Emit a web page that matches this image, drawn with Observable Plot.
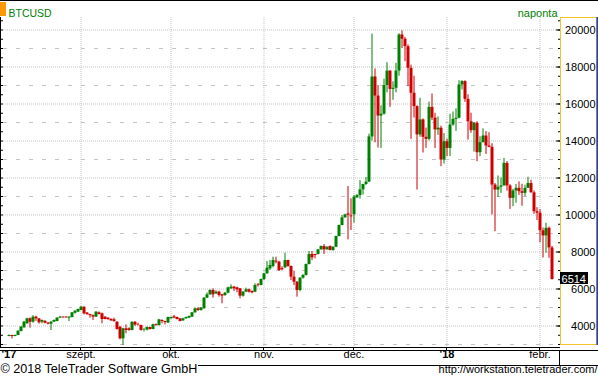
<!DOCTYPE html>
<html><head><meta charset="utf-8">
<script src="https://cdn.jsdelivr.net/npm/d3@7"></script>
<script src="https://cdn.jsdelivr.net/npm/@observablehq/plot@0.6"></script>
<style>html,body{margin:0;padding:0;background:#fff;} svg{display:block;}</style>
</head><body><div id="chart"></div>
<script>
// Daily BTCUSD candles, consecutive days starting 2017-08-08
const startDate = "2017-08-08";
const opens = [
  // Aug
  3433,3487,3433,3487,3703,3901,4117,4388,4207,4478,4388,4207,4243,4153,4100,4207,4243,4424,4478,4478,4424,4460,4690,4748,
  // Sep
  4838,5018,4700,4620,4560,4478,4712,4660,4478,4424,4352,4334,4207,3937,3306,3847,3847,3757,4200,4050,4030,3760,3780,3920,3810,4070,4020,4300,4244,4154,
  // Oct
  4388,4496,4460,4388,4280,4388,4424,4478,4713,4929,4840,4929,5505,5686,5920,5740,5830,5686,5650,5776,6010,6100,6064,6010,5614,5830,5956,5866,5830,6226,6189,
  // Nov
  6513,6820,7090,7216,7504,7450,7100,7144,7540,7216,6639,6369,5918,6585,6729,7324,7865,7865,7865,8117,8297,8117,8297,8080,8261,8838,9432,9847,10060,9950,
  // Dec
  10009,10928,11054,11360,11650,11780,14220,17460,16430,15350,15450,17000,17780,16790,16850,17780,19730,19500,19100,17930,16580,15860,14330,15140,14200,14090,15820,15240,14600,14690,12970,
  // Jan
  13960,13600,14865,15170,15230,17030,17210,16250,15040,14560,14960,13370,13910,14270,13730,13660,11620,11350,11500,11570,12790,11570,10900,11300,11440,11260,11170,11440,11700,11200,10180,
  // Feb
  10100,9150,8870,9280,8220
];
const highs = [
  3520,3500,3510,3740,3980,4250,4420,4440,4560,4530,4400,4330,4300,4190,4230,4330,4450,4520,4500,4510,4500,4730,4820,4910,
  5055,5030,4730,4640,4600,4780,4760,4700,4500,4440,4400,4420,4230,3960,3880,4060,3900,4230,4240,4150,4040,3880,3950,3930,4100,4110,4360,4334,4260,4480,
  4490,4570,4480,4400,4420,4480,4540,4730,4983,4983,5000,5540,5790,5960,6010,5900,5880,5720,5810,6100,6226,6140,6100,6030,5860,6046,6000,5900,6280,6300,6540,
  6850,7486,7540,7720,7720,7500,7200,7937,7560,7250,6964,6400,6620,6780,7350,8027,8027,7880,8140,8320,8405,8300,8330,8280,8860,9460,9970,10040,11541,10874,
  11054,11100,11860,11660,12030,14370,19780,17900,17000,15900,17340,18230,17800,17200,18200,19800,19950,19600,19200,18100,17500,15900,16310,15200,14700,16100,16540,15500,15300,14800,14400,
  14100,15450,15570,15740,17260,17260,17260,16500,15500,15000,15040,14230,14660,14510,14450,13850,11700,12110,12000,13060,12890,11640,11380,11650,11790,11660,11610,12040,11880,11300,10400,
  10290,9300,9550,9350,8300
];
const lows = [
  3420,3300,3420,3480,3680,3880,4100,3883,4150,4250,4100,4120,4120,4060,3757,4190,4230,4400,4420,4420,4240,4440,4640,4740,
  4820,4600,4580,4420,4300,4460,4600,4117,4330,4300,4250,4200,3780,3250,2946,3580,3720,3740,3980,4000,3720,3680,3730,3780,3800,4000,4010,4118,4060,4150,
  4370,4388,4330,4220,4250,4370,4400,4470,4690,4785,4800,4910,5480,5660,5505,5700,5560,5200,5600,5740,5980,5866,5794,5470,5560,5800,5780,5740,5800,6100,6170,
  6450,6800,7000,7140,7360,6950,6980,7100,7180,6460,6190,5558,5850,6530,6700,7300,7540,7630,7840,8100,7865,8100,8060,8040,8240,8820,9420,9830,8657,9162,
  9559,10900,10860,11080,11600,11750,14000,13900,13620,13600,15400,16600,15820,16200,16600,17500,19000,18290,16940,14090,15240,11350,14200,13350,13600,14000,15100,13600,14300,12610,12750,
  13150,13160,14800,14520,15200,16760,16090,14050,14420,13400,12880,13150,13900,13270,13640,10000,9100,10950,11170,11570,11290,10300,10450,10640,11060,10470,10990,11440,11180,10036,9700,
  8500,7680,7930,7660,6480
];
const closes = [
  3487,3433,3487,3721,3937,4207,4388,4207,4478,4388,4172,4297,4153,4100,4207,4297,4424,4478,4442,4442,4478,4712,4800,4892,
  5018,4658,4620,4560,4480,4748,4622,4352,4352,4352,4280,4243,3811,3306,3847,3757,3757,4200,4050,4030,3760,3780,3920,3810,4070,4020,4330,4244,4190,4460,
  4460,4424,4352,4244,4388,4460,4514,4713,4929,4840,4965,5505,5686,5920,5686,5830,5650,5614,5776,6064,6100,6010,5956,5614,5830,5956,5830,5794,6190,6189,6513,
  6820,7126,7270,7540,7450,7000,7040,7540,7216,6639,6369,5918,6585,6729,7324,7865,7685,7810,8117,8297,8117,8240,8080,8261,8838,9432,9847,10009,9990,9900,
  10964,11054,11360,11650,11780,14220,17460,16430,15350,15450,17000,17780,16790,16850,17780,19730,19500,19100,17930,16580,15860,14330,15140,14200,14090,15820,15240,14600,14690,12970,13960,
  13600,14865,15170,15230,17030,17210,16250,15040,14560,14960,13370,13910,14270,13730,13660,11620,11350,11500,11570,12790,11570,10900,11300,11440,11260,11170,11440,11700,11200,10180,10100,
  9150,8870,9280,8220,6514
];

// Axis / tick values
const yLabelTicks = [4000,6000,8000,10000,12000,14000,16000,18000,20000];
const yMinorGrid = [3000,5000,7000,9000,11000,13000,15000,17000,19000];
const ySmallTicks = [3000,3500,4000,4500,5000,5500,6000,6500,7000,7500,8000,8500,9000,9500,10000,10500,11000,11500,12000,12500,13000,13500,14000,14500,15000,15500,16000,16500,17000,17500,18000,18500,19000,19500,20000,20500];
const monthTicks = ["2017-09-01","2017-10-01","2017-11-01","2017-12-01","2018-01-01","2018-02-01"];
const monthLabels = ["szept.","okt.","nov.","dec.","'18","febr."];
const yearStartLabel = "'17";
const lastValue = 6514;

const DAY = 864e5;
const rows = closes.map((c, i) => ({
  date: new Date(Date.parse(startDate + "T00:00:00Z") + i * DAY),
  open: opens[i], high: highs[i], low: lows[i], close: c
}));
const months = monthTicks.map(s => new Date(s + "T00:00:00Z"));
const GREEN = "#008000", RED = "#cc0000", GRID = "#c4c4c4";
const col = d => d.close >= d.open ? GREEN : RED;
const FONT = "'Liberation Sans', Arial, sans-serif";

const xDomain = [new Date(Date.UTC(2017,7,6,4)), new Date(Date.UTC(2018,1,7,20))];
const yDomain = [2892, 20676];
const xEnd = xDomain[1], xStart = xDomain[0];

const chart = Plot.plot({
  width: 598, height: 384,
  marginTop: 17, marginRight: 38, marginBottom: 38, marginLeft: 3,
  x: {type: "utc", domain: xDomain, axis: null},
  y: {domain: yDomain, axis: null},
  color: {type: "identity"},
  style: {fontFamily: FONT, fontSize: "11px", background: "white", overflow: "visible"},
  marks: [
    Plot.ruleY(yMinorGrid, {stroke: GRID, strokeDasharray: "4,9"}),
    Plot.ruleY(yLabelTicks, {stroke: GRID, strokeDasharray: "1,1"}),
    Plot.ruleX(months, {stroke: GRID, strokeDasharray: "1,1"}),
    // wicks
    Plot.ruleX(rows, {x: "date", y1: "low", y2: "high", stroke: col, strokeWidth: 1}),
    // bodies
    Plot.ruleX(rows, {x: "date", y1: "open", y2: "close", stroke: col, strokeWidth: 3}),
    // right axis ticks (inward)
    Plot.ruleY(ySmallTicks, {x1: () => new Date(+xEnd - DAY * 2 / 3), x2: () => xEnd, stroke: "black"}),
    Plot.ruleY(yLabelTicks, {x1: () => new Date(+xEnd - DAY * 4 / 3), x2: () => xEnd, stroke: "black"}),
    // left axis ticks
    Plot.ruleY(ySmallTicks, {x1: () => xStart, x2: () => new Date(+xStart + DAY), dx: -3, stroke: "black"}),
    // right axis labels
    Plot.text(yLabelTicks, {y: d => d, text: d => String(d), frameAnchor: "right", dx: 35, textAnchor: "end", fill: "black", fontSize: 11}),
    // month labels
    Plot.text(months, {x: d => d, text: (d, i) => monthLabels[i], frameAnchor: "bottom", dy: 11.5, fill: "black", fontSize: 11,
      filter: (d, i) => !monthLabels[i].startsWith("'")}),
    Plot.text(months, {x: d => d, text: (d, i) => monthLabels[i], frameAnchor: "bottom", dy: 11.5, fill: "black", fontSize: 11, fontWeight: "bold",
      filter: (d, i) => monthLabels[i].startsWith("'")}),
    Plot.text([yearStartLabel], {frameAnchor: "bottom-left", dx: -2, dy: 11.5, textAnchor: "start", fill: "black", fontSize: 11, fontWeight: "bold"}),
    // header
    Plot.text(["BTCUSD"], {frameAnchor: "top-left", dx: 5, dy: -8, textAnchor: "start", fill: GREEN, fontSize: 10.5}),
    Plot.text(["naponta"], {frameAnchor: "top-right", dx: -3, dy: -8, textAnchor: "end", fill: GREEN, fontSize: 11}),
    // footer
    Plot.text(["© 2018 TeleTrader Software GmbH"], {frameAnchor: "bottom-left", dx: -3, dy: 26, textAnchor: "start", fill: "black", fontSize: 12.6}),
    Plot.text(["http://workstation.teletrader.com/"], {frameAnchor: "bottom-right", dx: 37, dy: 26, textAnchor: "end", fill: "black", fontSize: 11})
  ]
});

document.getElementById("chart").appendChild(chart);

// chrome decorations
const svg = d3.select(chart);
const xs = chart.scale("x"), ys = chart.scale("y");
const line = (x1, y1, x2, y2, stroke = "black", w = 1) =>
  svg.append("line").attr("x1", x1).attr("y1", y1).attr("x2", x2).attr("y2", y2).attr("stroke", stroke).attr("stroke-width", w);

svg.append("rect").attr("x", 0).attr("y", 2).attr("width", 6).attr("height", 14).attr("fill", "#ff9900");
line(0, 0.5, 598, 0.5);
line(0.5, 17, 0.5, 348);
line(0, 347.5, 560, 347.5);
line(0, 350.5, 598, 350.5);
line(198, 365.5, 598, 365.5);
line(559.5, 350, 559.5, 366);
for (const m of months) {
  const px = Math.round(xs.apply(m) - 0.5) + 0.5;
  line(px, 347, px, 351);
}
svg.append("rect").attr("x", 560.5).attr("y", 17.5).attr("width", 36).attr("height", 327)
  .attr("fill", "none").attr("stroke", "#f2c230");
line(597.25, 17, 597.25, 345, "#1f3fbf", 1.5);

// last value box
const yy = Math.round(ys.apply(lastValue));
const g = svg.append("g");
g.append("rect").attr("x", 560).attr("y", yy - 7).attr("width", 28).attr("height", 12).attr("fill", "#000");
g.append("text").attr("x", 586).attr("y", yy + 3.5).attr("text-anchor", "end")
  .style("fill", "#fff").style("font-family", FONT).style("font-size", "11px").text(String(lastValue));
</script>
</body></html>
